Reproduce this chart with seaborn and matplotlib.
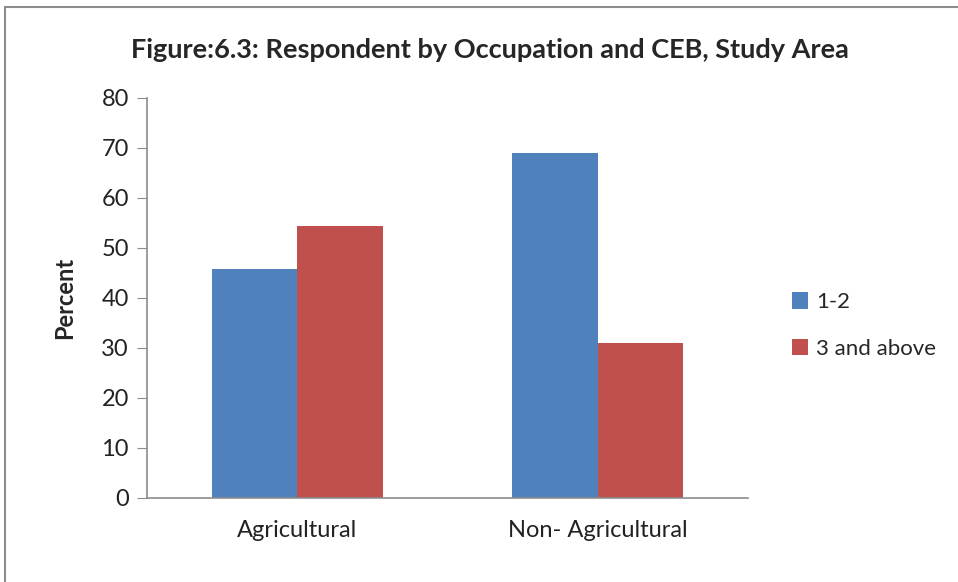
import numpy as np
import pandas as pd
import matplotlib.pyplot as plt
import seaborn as sns
from matplotlib.patches import Rectangle

occupations = ["Agricultural", "Non- Agricultural"]
ceb_groups = ["1-2", "3 and above"]
pct_1_2 = [45.7, 69.0]
pct_3_above = [54.3, 31.0]

df = pd.DataFrame({
    "occupation": occupations * 2,
    "ceb": [ceb_groups[0]] * 2 + [ceb_groups[1]] * 2,
    "percent": pct_1_2 + pct_3_above,
})

sns.set_style("white")
plt.rcParams['font.family'] = ['Lato', 'DejaVu Sans']

fig = plt.figure(figsize=(9.58, 5.82), dpi=100)
ax = fig.add_axes([147 / 958, 1 - 497.7 / 582, 601 / 958, 400 / 582])

sns.barplot(data=df, x="occupation", y="percent", hue="ceb",
            palette=["#4F81BD", "#C0504D"], width=0.57, saturation=1,
            linewidth=0, ax=ax, legend=True)

ax.set_ylim(0, 80)
ax.set_yticks(np.arange(0, 81, 10))
ax.set_xlim(-0.5, 1.5)
ax.set_xlabel("")
ax.set_ylabel("Percent", fontsize=17, fontweight="bold", labelpad=18)
ax.tick_params(axis="y", length=7, color="#8c8c8c", labelsize=17, pad=6,
               direction="out", left=True, labelcolor="#222222")
ax.tick_params(axis="x", length=0, labelsize=17, pad=16, labelcolor="#222222")
for s in ["top", "right"]:
    ax.spines[s].set_visible(False)
for s in ["left", "bottom"]:
    ax.spines[s].set_color("#8c8c8c")
    ax.spines[s].set_linewidth(1.2)

leg = ax.legend(loc="center left", bbox_to_anchor=(1.04, 0.43), frameon=False,
                fontsize=16, handlelength=0.7, handleheight=0.75, handletextpad=0.4,
                labelspacing=1.2)

fig.suptitle("Figure:6.3: Respondent by Occupation and CEB, Study Area",
             x=0.511, y=0.935, fontsize=19.5, fontweight="bold")

fig.patches.append(Rectangle((5 / 958, -0.05), 1.2, 1 - 7 / 582 + 0.05,
                             transform=fig.transFigure, fill=False,
                             edgecolor="#8c8c8c", linewidth=1.5))

fig.savefig("out.png", dpi=100)
